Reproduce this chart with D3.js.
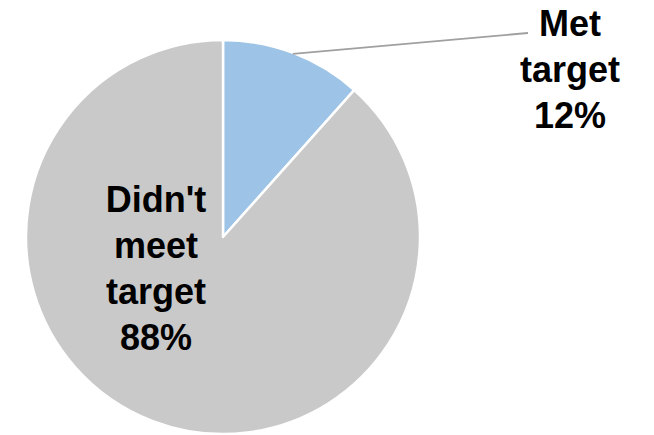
<!DOCTYPE html>
<html>
<head>
<meta charset="utf-8">
<script src="https://cdn.jsdelivr.net/npm/d3@7"></script>
<style>
  html, body { margin: 0; padding: 0; background: #fff; }
  svg { display: block; }
</style>
</head>
<body>
<script>
const categories = ["Met target", "Didn't meet target"];
const values = [11.6, 88.4];
const labelLines = [["Met", "target", "12%"], ["Didn't", "meet", "target", "88%"]];
const colors = ["#9DC3E6", "#C9C9C9"];

const W = 654, H = 435;
const cx = 223, cy = 237, R = 197;

const svg = d3.select("body").append("svg").attr("width", W).attr("height", H);

const pie = d3.pie().sort(null).value(d => d)(values);
const arc = d3.arc().innerRadius(0).outerRadius(R);

const g = svg.append("g").attr("transform", `translate(${cx},${cy})`);
g.selectAll("path").data(pie).join("path")
  .attr("d", arc)
  .attr("fill", (d, i) => colors[i])
  .attr("stroke", "#fff")
  .attr("stroke-width", 2.5)
  .attr("stroke-linejoin", "round");

// leader line for the small slice
const a0 = pie[0].startAngle + (pie[0].endAngle - pie[0].startAngle) * 0.5;
const p0 = [Math.sin(a0) * (R - 1), -Math.cos(a0) * (R - 1)];
svg.append("line")
  .attr("x1", cx + p0[0]).attr("y1", cy + p0[1])
  .attr("x2", 528).attr("y2", 33)
  .attr("stroke", "#A0A0A0").attr("stroke-width", 1.8);

const labelPos = [[570, 36], [156, 212]];
const lineH = 46;
labelLines.forEach((lines, i) => {
  const t = svg.append("text")
    .attr("text-anchor", "middle")
    .attr("font-family", "'Liberation Sans', Arial, sans-serif")
    .attr("font-weight", "bold")
    .attr("font-size", 36)
    .attr("fill", "#000");
  lines.forEach((s, j) => {
    t.append("tspan").attr("x", labelPos[i][0]).attr("y", labelPos[i][1] + j * lineH).text(s);
  });
});
</script>
</body>
</html>
